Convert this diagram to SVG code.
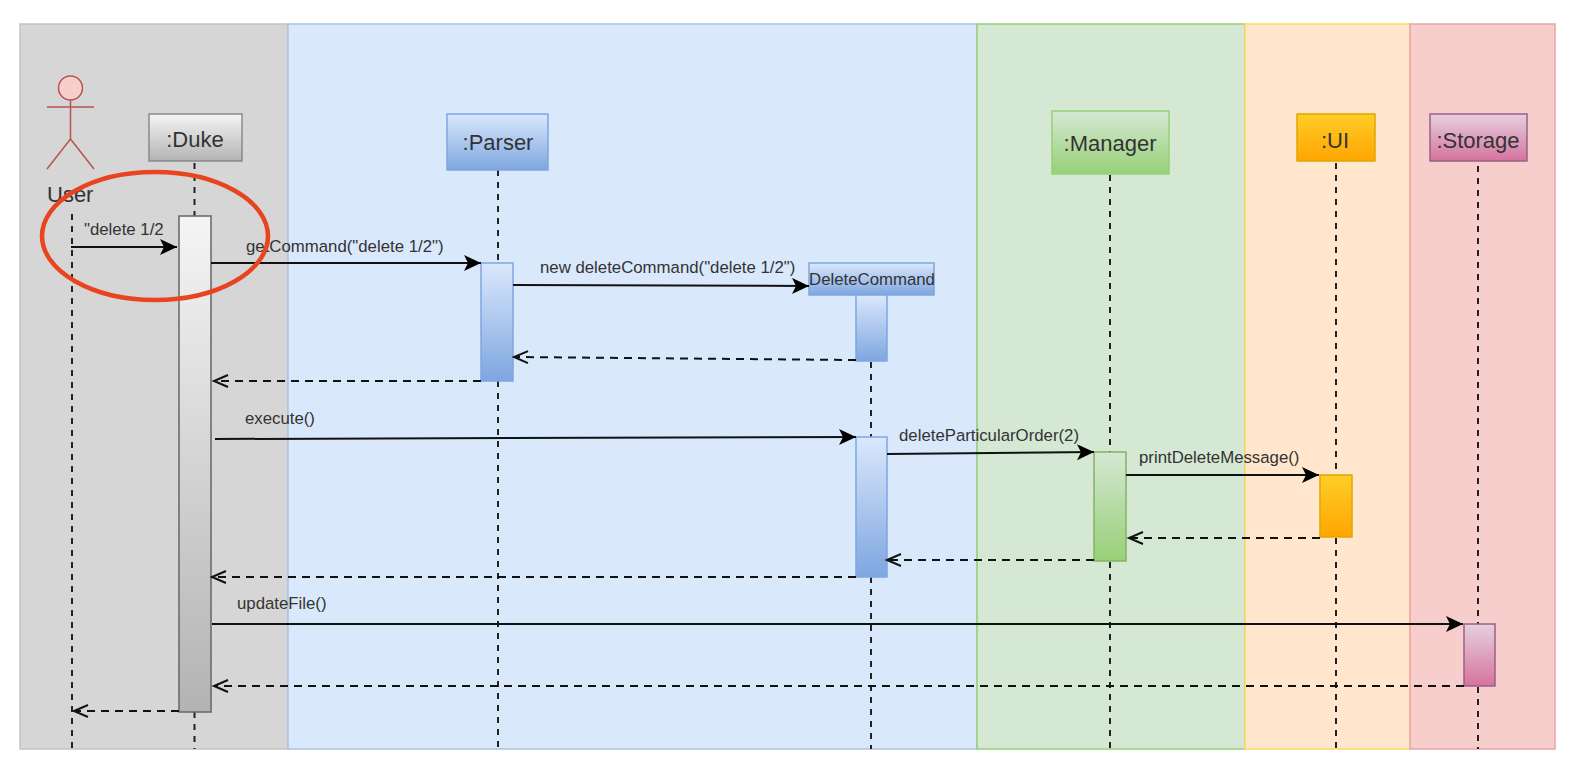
<svg xmlns="http://www.w3.org/2000/svg" width="1592" height="760" viewBox="0 0 1592 760">
<style>
text{font-family:"Liberation Sans",Arial,sans-serif;fill:#333;}
.lbl{font-size:16.800px;}
.hd{font-size:22px;text-anchor:middle;}
.life{stroke:#222;stroke-width:2;stroke-dasharray:6 6;fill:none;}
.msg{stroke:#111;stroke-width:2;fill:none;marker-end:url(#solid);}
.ret{stroke:#111;stroke-width:2;stroke-dasharray:8 6;fill:none;marker-end:url(#open);}
</style>
<defs>
<marker id="solid" markerUnits="userSpaceOnUse" markerWidth="20" markerHeight="18" refX="17" refY="8" orient="auto"><path d="M0 0L17 8L0 16L4 8Z" fill="#000"/></marker>
<marker id="open" markerUnits="userSpaceOnUse" markerWidth="18" markerHeight="18" refX="15" refY="8" orient="auto"><path d="M1 2L15 8L1 14" fill="none" stroke="#111" stroke-width="2"/></marker>
<linearGradient id="g" x1="0" y1="0" x2="0" y2="1"><stop offset="0" stop-color="#f5f5f5"/><stop offset="1" stop-color="#b3b3b3"/></linearGradient>
<linearGradient id="b" x1="0" y1="0" x2="0" y2="1"><stop offset="0" stop-color="#dae8fc"/><stop offset="1" stop-color="#7ea6e0"/></linearGradient>
<linearGradient id="gr" x1="0" y1="0" x2="0" y2="1"><stop offset="0" stop-color="#d5e8d4"/><stop offset="1" stop-color="#97d077"/></linearGradient>
<linearGradient id="o" x1="0" y1="0" x2="0" y2="1"><stop offset="0" stop-color="#ffcd28"/><stop offset="1" stop-color="#ffa500"/></linearGradient>
<linearGradient id="p" x1="0" y1="0" x2="0" y2="1"><stop offset="0" stop-color="#e6d0de"/><stop offset="1" stop-color="#d5739d"/></linearGradient>
</defs>
<rect width="1592" height="760" fill="#fff"/>
<g id="lanes">
<rect x="20" y="24" width="268" height="725" fill="#d6d6d6" stroke="#c4c4c4" stroke-width="1.5"/>
<rect x="288" y="24" width="689" height="725" fill="#dae8fc" stroke="#a9c4e6" stroke-width="1.5"/>
<rect x="977" y="24" width="268" height="725" fill="#d5e8d4" stroke="#97d077" stroke-width="1.5"/>
<rect x="1245" y="24" width="165" height="725" fill="#ffe6cc" stroke="#ffd966" stroke-width="1.5"/>
<rect x="1410" y="24" width="145" height="725" fill="#f8cecc" stroke="#e8a5a5" stroke-width="1.5"/>
</g>
<g id="lifelines">
<line class="life" x1="72" y1="214" x2="72" y2="749"/>
<line class="life" x1="194.500" y1="163" x2="194.500" y2="216"/>
<line class="life" x1="194.500" y1="712" x2="194.500" y2="749"/>
<line class="life" x1="498" y1="170" x2="498" y2="263"/>
<line class="life" x1="498" y1="381" x2="498" y2="749"/>
<line class="life" x1="871" y1="362" x2="871" y2="437"/>
<line class="life" x1="871" y1="577" x2="871" y2="749"/>
<line class="life" x1="1110" y1="175" x2="1110" y2="452"/>
<line class="life" x1="1110" y1="562" x2="1110" y2="749"/>
<line class="life" x1="1336" y1="163" x2="1336" y2="475"/>
<line class="life" x1="1336" y1="538" x2="1336" y2="749"/>
<line class="life" x1="1478" y1="166" x2="1478" y2="624"/>
<line class="life" x1="1478" y1="687" x2="1478" y2="749"/>
</g>
<g id="user">
<circle cx="70.500" cy="88" r="12" fill="#f8cecc" stroke="#b85450" stroke-width="1.500"/>
<path d="M70.500 100V139M47 107H94M70.500 139L47 169M70.500 139L94 169" fill="none" stroke="#b85450" stroke-width="1.500"/>
<text x="47" y="202" font-size="22">User</text>
</g>
<g id="duke">
<rect x="149" y="114" width="93" height="47" fill="url(#g)" stroke="#8a8a8a" stroke-width="1.500"/>
<text class="hd" x="195" y="147">:Duke</text>
<rect x="179" y="216" width="32" height="496" fill="url(#g)" stroke="#666" stroke-width="1.500"/>
</g>
<g id="parser">
<rect x="447" y="114" width="101" height="56" fill="url(#b)" stroke="#7ea6e0" stroke-width="1.500"/>
<text class="hd" x="498" y="150">:Parser</text>
<rect x="481" y="263" width="32" height="118" fill="url(#b)" stroke="#7ea6e0" stroke-width="1.500"/>
</g>
<g id="deletecommand">
<rect x="809" y="263" width="125" height="32" fill="url(#b)" stroke="#7ea6e0" stroke-width="1.500"/>
<text x="872" y="285" font-size="16.800" text-anchor="middle">DeleteCommand</text>
<rect x="856" y="295" width="31" height="66" fill="url(#b)" stroke="#7ea6e0" stroke-width="1.500"/>
<rect x="856" y="437" width="31" height="140" fill="url(#b)" stroke="#7ea6e0" stroke-width="1.500"/>
</g>
<g id="manager">
<rect x="1052" y="111" width="117" height="63" fill="url(#gr)" stroke="#97d077" stroke-width="1.500"/>
<text class="hd" x="1110" y="151">:Manager</text>
<rect x="1094" y="452" width="32" height="109" fill="url(#gr)" stroke="#82b366" stroke-width="1.500"/>
</g>
<g id="ui">
<rect x="1297" y="114" width="78" height="47" fill="url(#o)" stroke="#e0a800" stroke-width="1.500"/>
<text class="hd" x="1335" y="148">:UI</text>
<rect x="1320" y="475" width="32" height="62" fill="url(#o)" stroke="#e0a800" stroke-width="1.500"/>
</g>
<g id="storage">
<rect x="1430" y="114" width="97" height="47" fill="url(#p)" stroke="#996185" stroke-width="1.500"/>
<text class="hd" x="1478" y="148">:Storage</text>
<rect x="1464" y="624" width="31" height="62" fill="url(#p)" stroke="#996185" stroke-width="1.500"/>
</g>
<g id="connectors">
<line class="msg" x1="71" y1="247" x2="177" y2="247"/>
<line class="msg" x1="211" y1="263" x2="481" y2="263"/>
<line class="msg" x1="513" y1="285" x2="809" y2="286"/>
<line class="msg" x1="215" y1="439" x2="856" y2="437"/>
<line class="msg" x1="887" y1="454" x2="1094" y2="452"/>
<line class="msg" x1="1126" y1="475" x2="1319" y2="475"/>
<line class="msg" x1="212" y1="624" x2="1463" y2="624"/>
<line class="ret" x1="856" y1="360" x2="514" y2="357"/>
<line class="ret" x1="481" y1="381" x2="214" y2="381"/>
<line class="ret" x1="1320" y1="538" x2="1129" y2="538"/>
<line class="ret" x1="1094" y1="560" x2="887" y2="560"/>
<line class="ret" x1="856" y1="577" x2="212" y2="577"/>
<line class="ret" x1="1464" y1="686" x2="214" y2="686"/>
<line class="ret" x1="179" y1="711" x2="74" y2="711"/>
</g>
<g id="labels">
<text class="lbl" x="84" y="235">"delete 1/2</text>
<text class="lbl" x="246" y="252">getCommand("delete 1/2")</text>
<text class="lbl" x="540" y="273">new deleteCommand("delete 1/2")</text>
<text class="lbl" x="245" y="424">execute()</text>
<text class="lbl" x="899" y="441">deleteParticularOrder(2)</text>
<text class="lbl" x="1139" y="463">printDeleteMessage()</text>
<text class="lbl" x="237" y="609">updateFile()</text>
</g>
<ellipse id="highlight" cx="155" cy="236" rx="113" ry="64" fill="none" stroke="#e8441f" stroke-width="4.500"/>
</svg>
